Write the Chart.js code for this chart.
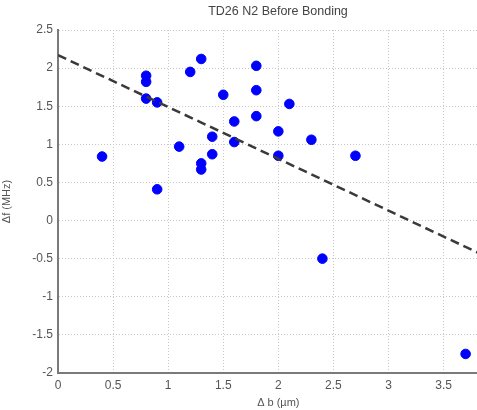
<!DOCTYPE html>
<html>
<head>
<meta charset="utf-8">
<script src="https://cdn.jsdelivr.net/npm/chart.js@4/dist/chart.umd.min.js"></script>
<style>
  html, body { margin: 0; padding: 0; background: #fff; overflow: hidden; }
  #wrap { position: relative; width: 507px; height: 410px; }
  #title {
    position: absolute; top: 4px; left: 178px; width: 200px;
    text-align: center; color: #444;
    font: 12.5px Arial, "Liberation Sans", sans-serif;
  }
</style>
</head>
<body>
<div id="wrap">
  <div id="title">TD26 N2 Before Bonding</div>
  <canvas id="chart" width="507" height="410"></canvas>
</div>
<script>
// measured points (delta b in um, delta f in MHz)
const deltaB = [0.4, 0.8, 0.8, 0.8, 0.9, 0.9, 1.1, 1.2, 1.3, 1.3, 1.3, 1.4, 1.4, 1.5,
  1.6, 1.6, 1.8, 1.8, 1.8, 2.0, 2.0, 2.1, 2.3, 2.4, 2.7, 3.7];
const deltaF = [0.84, 1.9, 1.82, 1.6, 1.55, 0.41, 0.97, 1.95, 2.12, 0.75, 0.67, 1.1, 0.87, 1.65,
  1.3, 1.03, 2.03, 1.71, 1.37, 1.17, 0.85, 1.53, 1.06, -0.5, 0.85, -1.75];

// fitted trend line end points
const fitX = [0, 4];
const fitY = [2.17, -0.55];

const xTicks = [0, 0.5, 1, 1.5, 2, 2.5, 3, 3.5, 4];
const yTicks = [-2, -1.5, -1, -0.5, 0, 0.5, 1, 1.5, 2, 2.5];

const points = deltaB.map((x, i) => ({ x, y: deltaF[i] }));
const fitLine = fitX.map((x, i) => ({ x, y: fitY[i] }));

const tickFont = { family: "Arial, 'Liberation Sans', sans-serif", size: 11 };

new Chart(document.getElementById("chart"), {
  type: "scatter",
  data: {
    datasets: [
      {
        label: "fit",
        data: fitLine,
        showLine: true,
        borderColor: "#3a3a3a",
        borderWidth: 2.5,
        borderDash: [9, 5],
        pointRadius: 0,
        fill: false
      },
      {
        label: "data",
        data: points,
        backgroundColor: "#0000ff",
        borderColor: "#0000ff",
        pointRadius: 4.8,
        pointHoverRadius: 4.8
      }
    ]
  },
  options: {
    responsive: false,
    animation: false,
    layout: { padding: { top: 30, right: 0, bottom: 0, left: 0 } },
    plugins: {
      legend: { display: false },
      tooltip: { enabled: false },
      title: { display: false }
    },
    scales: {
      x: {
        type: "linear",
        min: 0,
        max: 4,
        afterBuildTicks: axis => { axis.ticks = xTicks.map(v => ({ value: v })); },
        afterFit: axis => { axis.height = 37; },
        grid: { color: "#c8c8c8", lineWidth: 1, drawTicks: false },
        border: { color: "#7a7a7a", width: 2, dash: [1, 2] },
        ticks: { color: "#555", font: { family: tickFont.family, size: 12 }, padding: 5, maxRotation: 0,
          callback: v => String(v) },
        title: {
          display: true,
          text: "Δ b (µm)",
          color: "#555",
          font: tickFont,
          padding: { top: 0, bottom: 0 }
        }
      },
      y: {
        type: "linear",
        min: -2,
        max: 2.5,
        afterBuildTicks: axis => { axis.ticks = yTicks.map(v => ({ value: v })); },
        afterFit: axis => { axis.width = 58; },
        grid: { color: "#c8c8c8", lineWidth: 1, drawTicks: false },
        border: { color: "#7a7a7a", width: 2, dash: [1, 2] },
        ticks: { color: "#555", font: { family: tickFont.family, size: 12 }, padding: 5,
          callback: v => String(v) },
        title: {
          display: true,
          text: "Δf (MHz)",
          color: "#555",
          font: tickFont,
          padding: { top: 0, bottom: 2 }
        }
      }
    }
  }
});
</script>
</body>
</html>
